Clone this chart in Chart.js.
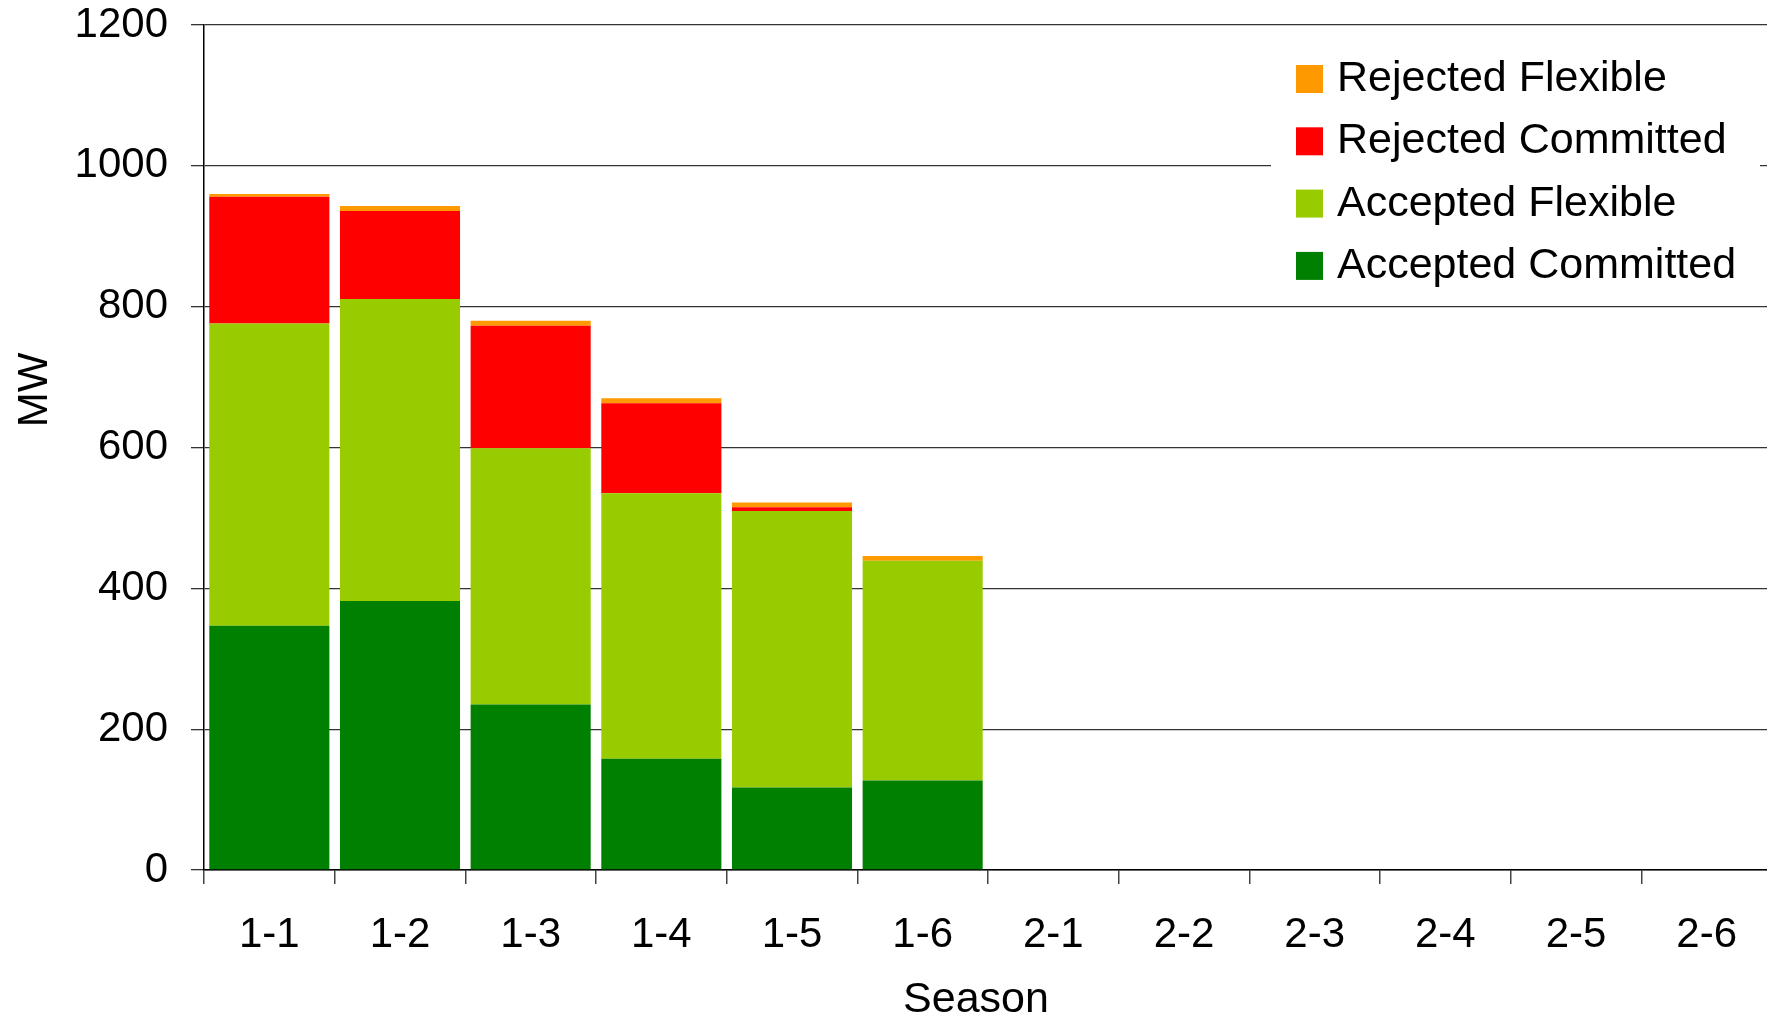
<!DOCTYPE html>
<html>
<head>
<meta charset="utf-8">
<script src="https://cdn.jsdelivr.net/npm/chart.js@4"></script>
<style>
  html, body { margin: 0; padding: 0; background: #fff; overflow: hidden; }
  #wrap { width: 1772px; height: 1021px; }
</style>
</head>
<body>
<div id="wrap"><canvas id="chart" width="1772" height="1021"></canvas></div>
<script>
// Seasons along the x axis
const seasons = ['1-1', '1-2', '1-3', '1-4', '1-5', '1-6', '2-1', '2-2', '2-3', '2-4', '2-5', '2-6'];

// MW per season, stacked bottom to top
const acceptedCommitted = [347, 382, 235, 158, 117, 127, null, null, null, null, null, null];
const acceptedFlexible  = [429, 429, 364, 377, 393, 312, null, null, null, null, null, null];
const rejectedCommitted = [180, 125, 174, 128, 5, 0, null, null, null, null, null, null];
const rejectedFlexible  = [4, 7, 7, 7, 7, 7, null, null, null, null, null, null];

const yTicks = [0, 200, 400, 600, 800, 1000, 1200];

const FONT = "'Liberation Sans', Arial, sans-serif";

// legend box inside the plot (top right, covers the gridline) + axis titles
const boxLegend = {
  id: 'boxLegend',
  afterDraw(chart) {
    const ctx = chart.ctx;
    ctx.save();
    ctx.fillStyle = '#fff';
    ctx.fillRect(1271, 40, 489, 255);
    const items = chart.data.datasets.slice().reverse();
    ctx.font = '43px ' + FONT;
    ctx.textAlign = 'left';
    ctx.textBaseline = 'alphabetic';
    items.forEach((ds, i) => {
      const y = 65 + i * 62.3;
      ctx.fillStyle = ds.backgroundColor;
      ctx.fillRect(1296, y, 27, 28);
      ctx.fillStyle = '#000';
      ctx.fillText(ds.label, 1337, y + 26);
    });
    ctx.font = '43px ' + FONT;
    ctx.textAlign = 'center';
    ctx.textBaseline = 'middle';
    ctx.fillText('Season', 976, 1000);
    ctx.translate(35, 390);
    ctx.rotate(-Math.PI / 2);
    ctx.font = '42px ' + FONT;
    ctx.fillText('MW', 0, 0);
    ctx.restore();
  }
};

new Chart(document.getElementById('chart'), {
  type: 'bar',
  data: {
    labels: seasons,
    datasets: [
      { label: 'Accepted Committed', data: acceptedCommitted, backgroundColor: '#008000' },
      { label: 'Accepted Flexible', data: acceptedFlexible, backgroundColor: '#99CC00' },
      { label: 'Rejected Committed', data: rejectedCommitted, backgroundColor: '#FF0000' },
      { label: 'Rejected Flexible', data: rejectedFlexible, backgroundColor: '#FF9900' },
    ],
  },
  options: {
    responsive: false, animation: false, devicePixelRatio: 1,
    barPercentage: 0.919, categoryPercentage: 1,
    layout: { padding: 0 },
    plugins: { legend: { display: false }, tooltip: { enabled: false } },
    scales: {
      x: {
        stacked: true,
        grid: { drawOnChartArea: false, drawTicks: true, tickLength: 14, color: '#444', lineWidth: 1.5 },
        border: { color: '#000', width: 1.5 },
        ticks: { color: '#000', font: { family: FONT, size: 42 }, padding: 26, maxRotation: 0 },
        afterFit(scale) { scale.height = 151; },
      },
      y: {
        stacked: true, min: 0, max: 1200,
        afterBuildTicks(scale) { scale.ticks = yTicks.map(v => ({ value: v })); },
        grid: { color: '#333', lineWidth: 1.3, tickLength: 13 },
        border: { color: '#000', width: 1.5 },
        ticks: { color: '#000', font: { family: FONT, size: 42 }, padding: 23, callback: v => String(v) },
        afterFit(scale) { scale.width = 204; scale.paddingTop = 25; scale.paddingBottom = 25; },
      },
    },
  },
  plugins: [boxLegend],
});
</script>
</body>
</html>
